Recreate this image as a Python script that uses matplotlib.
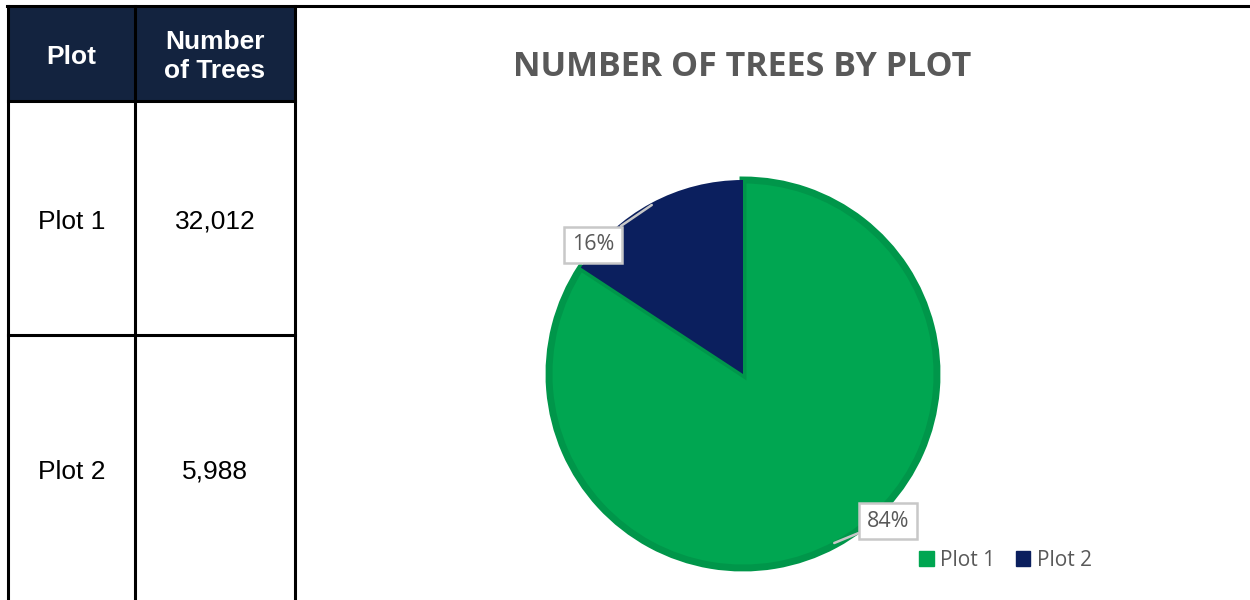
import numpy as np
import matplotlib
matplotlib.use('Agg')
import matplotlib.pyplot as plt
from matplotlib.patches import Rectangle

#%% data
plots = ['Plot 1', 'Plot 2']
trees = [32012, 5988]
header = ['Plot', 'Number\nof Trees']
title = 'NUMBER OF TREES BY PLOT'
colors = ['#00A651', '#0B1F5E']
edge_colors = ['#00964A', '#0B1F5E']

W, H = 1250, 600
fig = plt.figure(figsize=(W / 100, H / 100), dpi=100)
fig.patch.set_facecolor('white')

#%% table on the left, drawn in pixel coordinates
bg = fig.add_axes([0, 0, 1, 1])
bg.set_xlim(0, W)
bg.set_ylim(H, 0)
bg.axis('off')

col_x = [8, 135, 295]
row_y = [6, 101, 335, H]
navy_head = '#13233F'

bg.add_patch(Rectangle((col_x[0], row_y[0]), col_x[2] - col_x[0], row_y[1] - row_y[0],
                       facecolor=navy_head, edgecolor='none', zorder=1))
for i, txt in enumerate(header):
    bg.text((col_x[i] + col_x[i + 1]) / 2, (row_y[0] + row_y[1]) / 2 + 3, txt,
            color='white', fontsize=19, fontweight='bold', family='Liberation Sans',
            ha='center', va='center', linespacing=1.25, zorder=3)

row_centres = [222, 472]
for name, n, yc in zip(plots, trees, row_centres):
    bg.text((col_x[0] + col_x[1]) / 2, yc, name, fontsize=19, family='Liberation Sans',
            ha='center', va='center', color='black', zorder=3)
    bg.text((col_x[1] + col_x[2]) / 2, yc, f'{n:,}', fontsize=19, family='Liberation Sans',
            ha='center', va='center', color='black', zorder=3)

lw = 2.2
bg.plot([col_x[0] - 1, W], [row_y[0], row_y[0]], color='black', lw=lw, zorder=4)
for y in row_y[1:3]:
    bg.plot([col_x[0], col_x[2]], [y, y], color='black', lw=lw, zorder=4)
for x in col_x:
    bg.plot([x, x], [row_y[0], H], color='black', lw=lw, zorder=4)

# chart title
bg.text(742, 67, title, fontsize=24.5, fontweight='bold', family='Open Sans',
        color='#595959', ha='center', va='center')

#%% pie chart
cx, cy, rad = 743, 374, 194
half = 215
ax = fig.add_axes([(cx - half) / W, (H - cy - half) / H, 2 * half / W, 2 * half / H])
ax.axis('off')

wedges, _ = ax.pie(trees, colors=colors, startangle=90, counterclock=False, radius=1,
                   wedgeprops=dict(linewidth=0))
ax.set_xlim(-half / rad, half / rad)
ax.set_ylim(-half / rad, half / rad)
ax.set_aspect('equal')

# darker rim on the green slice
for w, ec in zip(wedges, edge_colors):
    w.set_edgecolor(ec)
    w.set_linewidth(5 if ec != colors[1] else 0)
    w.set_joinstyle('miter')

total = sum(trees)
label_pos = [(0.747, -0.758), (-0.773, 0.665)]
for w, n, pos in zip(wedges, trees, label_pos):
    mid = np.deg2rad((w.theta1 + w.theta2) / 2)
    edge = (0.99 * np.cos(mid), 0.99 * np.sin(mid))
    ax.annotate(f'{n / total:.0%}', xy=edge, xytext=pos, ha='center', va='center',
                fontsize=15.5, family='Open Sans', color='#595959',
                bbox=dict(boxstyle='square,pad=0.35', fc='white', ec='#C8C8C8', lw=1.8),
                arrowprops=dict(arrowstyle='-', color='#C8C8C8', lw=1.8,
                                shrinkA=0, shrinkB=0),
                zorder=5)

handles = [Rectangle((0, 0), 1, 1, color=c) for c in colors]
leg = fig.legend(handles, plots, loc='center right', ncol=2,
                 bbox_to_anchor=(1100 / W, (H - 560) / H), frameon=False,
                 prop={'family': 'Open Sans', 'size': 15},
                 handlelength=0.7, handleheight=0.7, handletextpad=0.3,
                 columnspacing=1.0, borderaxespad=0)
for t in leg.get_texts():
    t.set_color('#595959')

fig.savefig('out.png', dpi=100, facecolor='white')
